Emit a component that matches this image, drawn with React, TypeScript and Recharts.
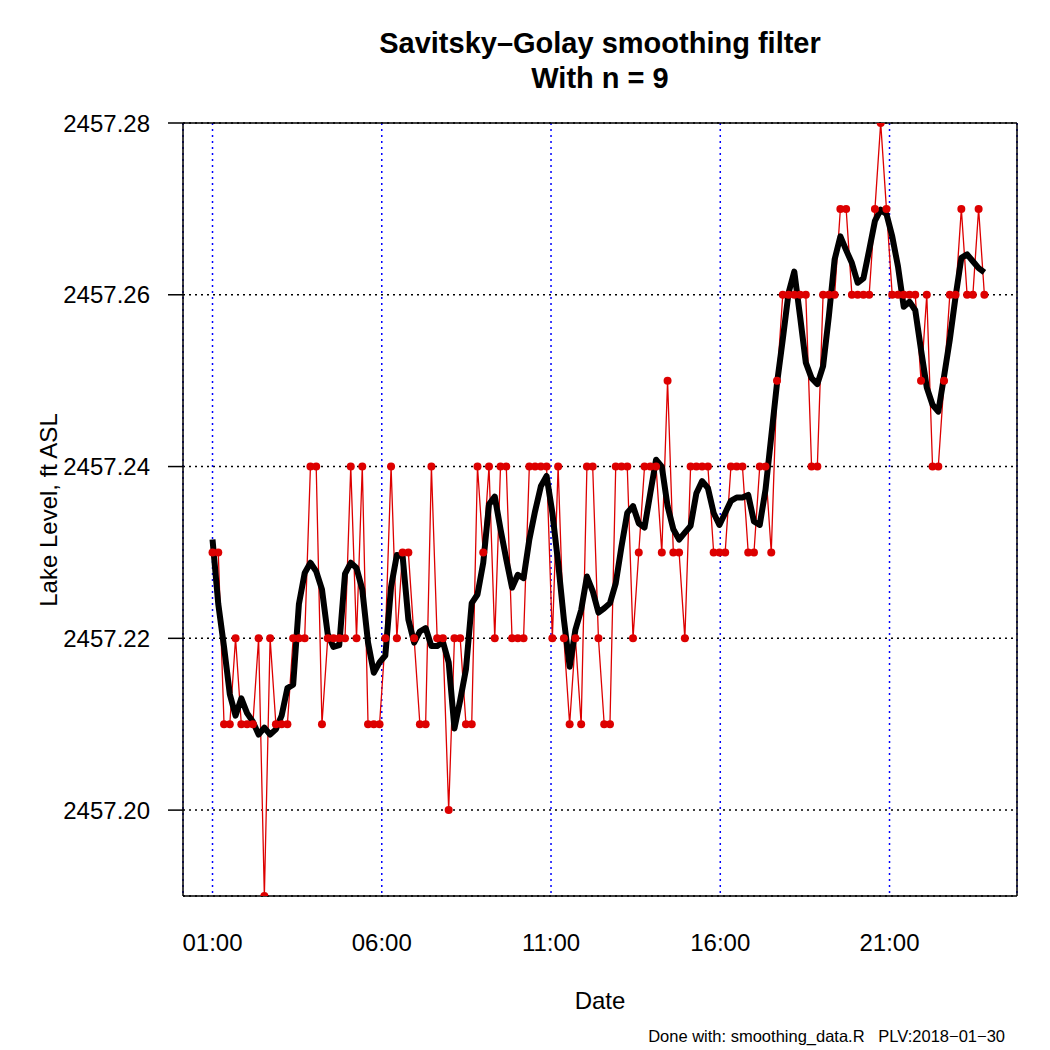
import React from 'react';
import { LineChart, Line, XAxis, YAxis, CartesianGrid, ReferenceLine } from 'recharts';

// lake level readings, one every ~10 minutes from 01:00
const rawLevel = [
  2457.23, 2457.23, 2457.21, 2457.21, 2457.22, 2457.21, 2457.21, 2457.21, 2457.22, 2457.19,
  2457.22, 2457.21, 2457.21, 2457.21, 2457.22, 2457.22, 2457.22, 2457.24, 2457.24, 2457.21,
  2457.22, 2457.22, 2457.22, 2457.22, 2457.24, 2457.22, 2457.24, 2457.21, 2457.21, 2457.21,
  2457.22, 2457.24, 2457.22, 2457.23, 2457.23, 2457.22, 2457.21, 2457.21, 2457.24, 2457.22,
  2457.22, 2457.20, 2457.22, 2457.22, 2457.21, 2457.21, 2457.24, 2457.23, 2457.24, 2457.22,
  2457.24, 2457.24, 2457.22, 2457.22, 2457.22, 2457.24, 2457.24, 2457.24, 2457.24, 2457.22,
  2457.24, 2457.22, 2457.21, 2457.22, 2457.21, 2457.24, 2457.24, 2457.22, 2457.21, 2457.21,
  2457.24, 2457.24, 2457.24, 2457.22, 2457.23, 2457.24, 2457.24, 2457.24, 2457.23, 2457.25,
  2457.23, 2457.23, 2457.22, 2457.24, 2457.24, 2457.24, 2457.24, 2457.23, 2457.23, 2457.23,
  2457.24, 2457.24, 2457.24, 2457.23, 2457.23, 2457.24, 2457.24, 2457.23, 2457.25, 2457.26,
  2457.26, 2457.26, 2457.26, 2457.26, 2457.24, 2457.24, 2457.26, 2457.26, 2457.26, 2457.27,
  2457.27, 2457.26, 2457.26, 2457.26, 2457.26, 2457.27, 2457.28, 2457.27, 2457.26, 2457.26,
  2457.26, 2457.26, 2457.26, 2457.25, 2457.26, 2457.24, 2457.24, 2457.25, 2457.26, 2457.26,
  2457.27, 2457.26, 2457.26, 2457.27, 2457.26,
];

// Savitsky-Golay smoothed curve
const smoothLevel = [
  2457.2315, 2457.224, 2457.219, 2457.2135, 2457.211, 2457.213, 2457.2113, 2457.2103, 2457.2088, 2457.2096,
  2457.2088, 2457.2094, 2457.211, 2457.2142, 2457.2146, 2457.224, 2457.2276, 2457.2288, 2457.2278, 2457.2257,
  2457.2205, 2457.219, 2457.2192, 2457.2275, 2457.2288, 2457.2282, 2457.2257, 2457.2195, 2457.216, 2457.2172,
  2457.218, 2457.226, 2457.2297, 2457.2296, 2457.2222, 2457.2195, 2457.2208, 2457.2212, 2457.2191, 2457.2191,
  2457.2196, 2457.2172, 2457.2095, 2457.2128, 2457.2164, 2457.2241, 2457.2251, 2457.2288, 2457.2356, 2457.2365,
  2457.2327, 2457.2292, 2457.2259, 2457.2274, 2457.227, 2457.2315, 2457.2348, 2457.2377, 2457.2389, 2457.2346,
  2457.2288, 2457.2222, 2457.2167, 2457.221, 2457.2233, 2457.2272, 2457.2255, 2457.223, 2457.2235, 2457.2241,
  2457.2264, 2457.2307, 2457.2346, 2457.2354, 2457.2334, 2457.2329, 2457.2369, 2457.2408, 2457.24, 2457.2354,
  2457.2327, 2457.2315, 2457.2323, 2457.2331, 2457.2369, 2457.2383, 2457.2375, 2457.2346, 2457.2332, 2457.2346,
  2457.236, 2457.2364, 2457.2364, 2457.2367, 2457.2336, 2457.2332, 2457.2373, 2457.2435, 2457.2497, 2457.2548,
  2457.2602, 2457.2627, 2457.2575, 2457.2521, 2457.2503, 2457.2496, 2457.2517, 2457.2575, 2457.2641, 2457.2668,
  2457.2652, 2457.2637, 2457.2614, 2457.2619, 2457.2652, 2457.2686, 2457.2699, 2457.2694, 2457.2668, 2457.2633,
  2457.2586, 2457.2592, 2457.2582, 2457.2536, 2457.2492, 2457.2472, 2457.2464, 2457.2505, 2457.2548, 2457.2598,
  2457.2643, 2457.2647, 2457.2639, 2457.2631, 2457.2626,
];

const startHour = 1;
const sampleMinutes = 10.21;
const hourTicks = [1, 6, 11, 16, 21];
const levelTicks = [2457.2, 2457.22, 2457.24, 2457.26, 2457.28];
const levelDomain = [2457.19, 2457.28];
const hourDomain = [0.128, 24.766];

const data = rawLevel.map((v, i) => ({
  hour: startHour + (i * sampleMinutes) / 60,
  raw: v,
  smooth: smoothLevel[i],
}));

const FONT = '"Liberation Sans", Arial, Helvetica, sans-serif';
const RED = '#DD0000';

const fmtHour = (h: number) => `${String(Math.round(h)).padStart(2, '0')}:00`;

export default function App() {
  return (
    <div style={{ position: 'absolute', left: 0, top: 0, width: 1050, height: 1050, background: '#fff', fontFamily: FONT }}>
      <LineChart width={1050} height={1050} data={data} margin={{ top: 123, right: 33, bottom: 94, left: 83 }}>
        <CartesianGrid vertical={false} stroke="#000" strokeWidth={1.5} strokeDasharray="2 4" />
        <CartesianGrid horizontal={false} stroke="#0000FF" strokeWidth={1.5} strokeDasharray="2 4" />
        <XAxis
          dataKey="hour"
          type="number"
          domain={hourDomain}
          allowDataOverflow
          ticks={hourTicks}
          tickFormatter={fmtHour}
          tickLine={false}
          tickMargin={32}
          height={60}
          axisLine={{ stroke: '#000', strokeWidth: 1.5 }}
          tick={{ fill: '#000', fontSize: 24, fontFamily: FONT }}
        />
        <YAxis
          type="number"
          domain={levelDomain}
          allowDataOverflow
          ticks={levelTicks}
          tickFormatter={(v: number) => v.toFixed(2)}
          tickSize={15}
          tickMargin={18}
          width={100}
          tickLine={{ stroke: '#000', strokeWidth: 1.5 }}
          axisLine={{ stroke: '#000', strokeWidth: 1.5 }}
          tick={{ fill: '#000', fontSize: 24, fontFamily: FONT }}
        />
        {/* top and right edges of the plot box */}
        <ReferenceLine y={levelDomain[1]} stroke="#000" strokeWidth={1.5} />
        <ReferenceLine x={hourDomain[1]} stroke="#000" strokeWidth={1.5} />
        <Line
          type="linear"
          dataKey="raw"
          stroke={RED}
          strokeWidth={1.3}
          dot={{ r: 4, fill: RED, stroke: 'none' }}
          activeDot={false}
          isAnimationActive={false}
        />
        <Line
          type="linear"
          dataKey="smooth"
          stroke="#000"
          strokeWidth={6}
          strokeLinejoin="round"
          dot={false}
          activeDot={false}
          isAnimationActive={false}
        />
      </LineChart>
      <svg width={1050} height={1050} style={{ position: 'absolute', left: 0, top: 0, pointerEvents: 'none' }}>
        <g fontFamily={FONT} fill="#000">
          <text x={600} y={53} textAnchor="middle" fontSize={29} fontWeight="bold">Savitsky–Golay smoothing filter</text>
          <text x={600} y={88} textAnchor="middle" fontSize={29} fontWeight="bold">With n = 9</text>
          <text x={600} y={1009} textAnchor="middle" fontSize={24}>Date</text>
          <text x={57} y={510} textAnchor="middle" fontSize={24} transform="rotate(-90 57 510)">Lake Level, ft ASL</text>
          <text x={1005} y={1042} textAnchor="end" fontSize={16.5} style={{ whiteSpace: 'pre' }}>
            {'Done with: smoothing_data.R   PLV:2018−01−30'}
          </text>
        </g>
      </svg>
    </div>
  );
}
